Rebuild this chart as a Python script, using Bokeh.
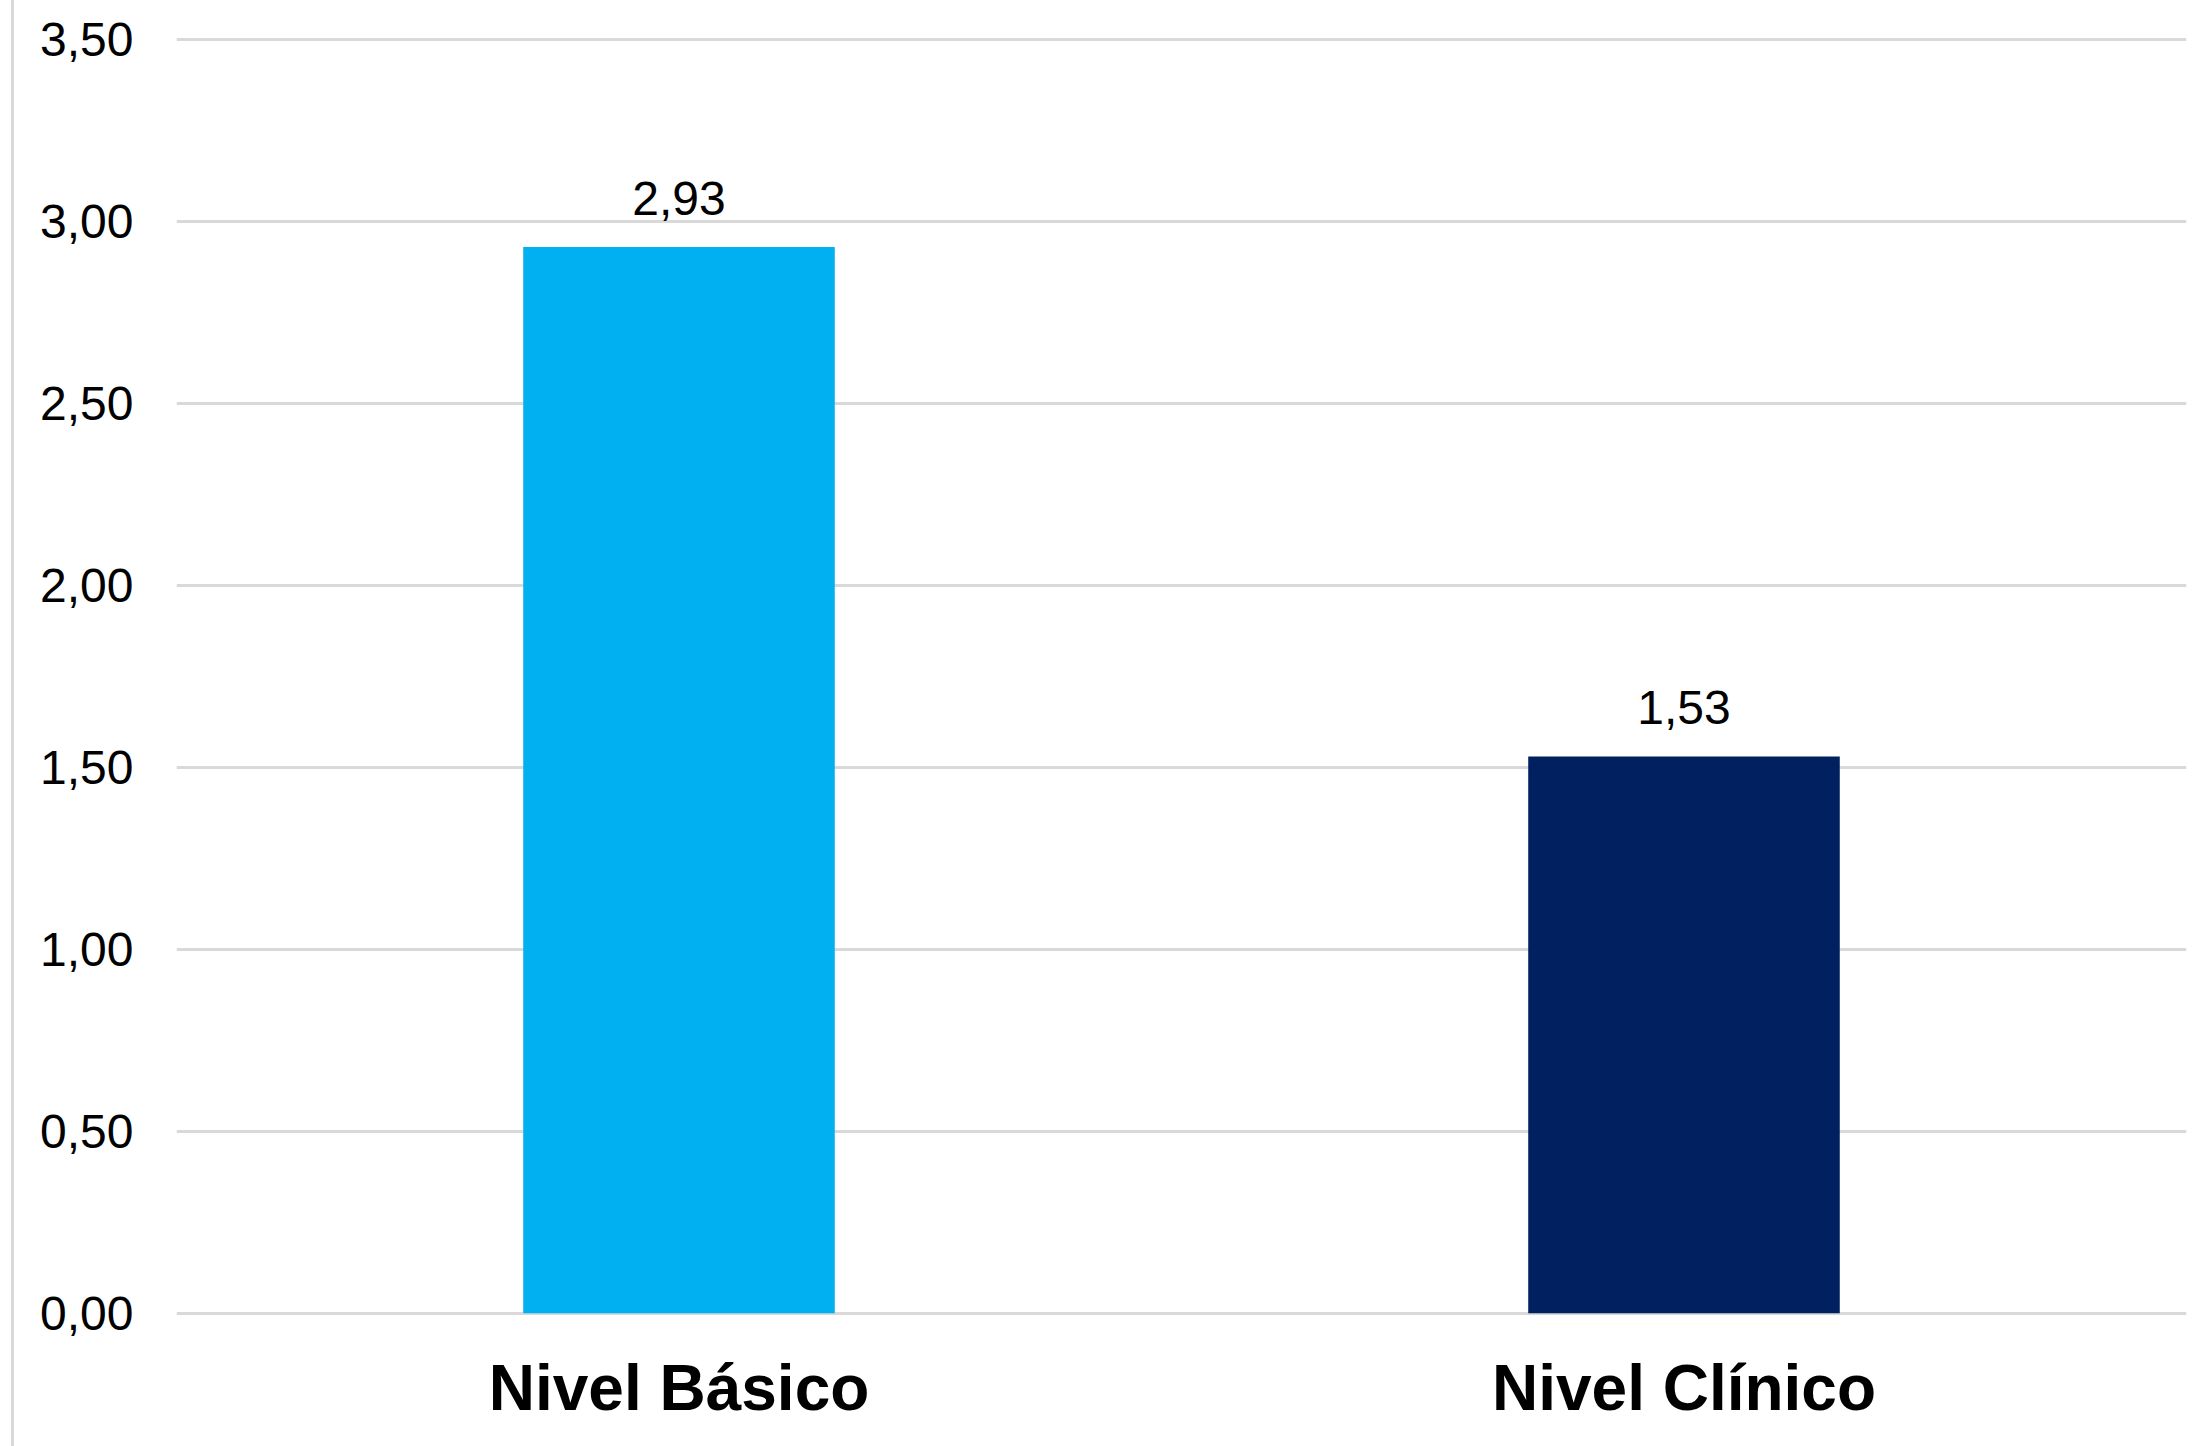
from bokeh.plotting import figure
from bokeh.models import ColumnDataSource, FixedTicker, CustomJSTickFormatter, Div, Range1d
from bokeh.layouts import row
from bokeh.core.properties import value
from bokeh.embed import file_html
from bokeh.resources import INLINE

categories = ["Nivel Básico", "Nivel Clínico"]
values = [2.93, 1.53]
colors = ["#00B0F0", "#002060"]
y_ticks = [0.0, 0.5, 1.0, 1.5, 2.0, 2.5, 3.0, 3.5]

labels = [f"{v:.2f}".replace(".", ",") for v in values]
src = ColumnDataSource(dict(cat=categories, val=values, color=colors, label=labels))

FONT = "Liberation Sans"

p = figure(
    x_range=categories,
    y_range=Range1d(-0.006, 3.506),
    width=2195, height=1446,
    output_backend="svg", toolbar_location=None,
    min_border_left=162, min_border_right=23, min_border_top=37, min_border_bottom=131,
    margin=(0, 0, 0, 0),
)
p.x_range.range_padding = 0
p.outline_line_color = None
p.background_fill_color = "white"
p.border_fill_color = "white"

p.vbar(x="cat", top="val", width=0.31, bottom=0, color="color", line_color=None, source=src)

p.text(x="cat", y="val", text="label", source=src,
       text_align="center", text_baseline="alphabetic", y_offset=-49,
       text_font=value(FONT), text_font_size="48px", text_color="#000000")

# y axis
p.yaxis.ticker = FixedTicker(ticks=y_ticks)
p.yaxis.formatter = CustomJSTickFormatter(code="return tick.toFixed(2).replace('.', ',');")
p.yaxis.axis_line_color = None
p.yaxis.major_tick_line_color = None
p.yaxis.minor_tick_line_color = None
p.yaxis.major_tick_out = 0
p.yaxis.major_tick_in = 0
p.yaxis.major_label_standoff = 43
p.yaxis.major_label_text_font = FONT
p.yaxis.major_label_text_font_size = "48px"
p.yaxis.major_label_text_color = "#000000"

# x axis
p.xaxis.axis_line_color = None
p.xaxis.major_tick_line_color = None
p.xaxis.minor_tick_line_color = None
p.xaxis.major_tick_out = 0
p.xaxis.major_tick_in = 0
p.xaxis.major_label_standoff = 36
p.xaxis.major_label_text_font = FONT
p.xaxis.major_label_text_font_style = "bold"
p.xaxis.major_label_text_font_size = "64px"
p.xaxis.major_label_text_color = "#000000"

# grid
p.xgrid.grid_line_color = None
p.ygrid.ticker = FixedTicker(ticks=y_ticks)
p.ygrid.grid_line_color = "#D9D9D9"
p.ygrid.grid_line_width = 3

border = Div(width=3, height=1446, margin=(0, 0, 0, 11),
             styles={"background-color": "#D9D9D9"})

layout = row(border, p, spacing=0, margin=(0, 0, 0, 0))

open("out.html", "w").write(file_html(layout, INLINE))
